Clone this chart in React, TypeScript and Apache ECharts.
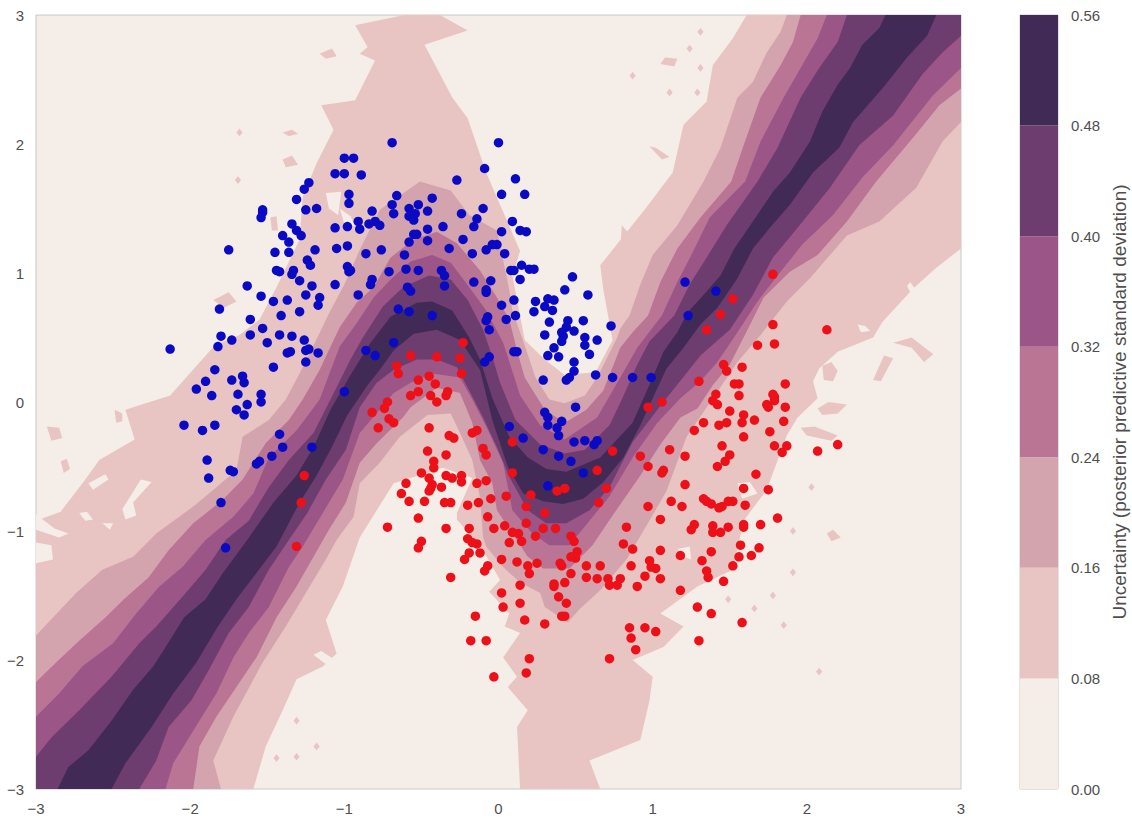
import React, { useEffect, useRef } from "react";
import * as echarts from "echarts";

type Pt = [number, number];

const bluePoints: Pt[] = [
[-1.00,1.89],[-1.06,1.77],[-1.00,1.77],[-1.23,1.70],[-1.26,1.65],[-1.31,1.57],[-0.97,1.61],[-0.97,1.54],[-1.25,1.49],[-1.18,1.50],[-1.53,1.49],[-1.53,1.47],[-1.54,1.43],[-1.34,1.38],[-1.06,1.35],[-0.98,1.36],[-1.31,1.33],[-1.28,1.29],[-1.40,1.29],[-1.36,1.24],[-1.75,1.18],[-1.45,1.16],[-1.36,1.16],[-1.19,1.18],[-1.05,1.19],[-0.98,1.21],[-1.24,1.10],[-1.22,1.06],[-1.44,1.02],[-1.42,1.01],[-1.33,1.02],[-1.34,0.99],[-0.98,1.05],[-0.97,1.01],[-1.29,0.94],[-1.21,0.90],[-1.63,0.90],[-1.06,0.91],[-1.54,0.82],[-1.25,0.83],[-1.16,0.81],[-1.17,0.75],[-1.46,0.78],[-1.37,0.79],[-1.81,0.72],[-1.41,0.67],[-1.29,0.70],[-1.61,0.64],[-1.53,0.57],
[-1.80,0.51],[-1.73,0.48],[-1.82,0.43],[-1.61,0.52],[-1.50,0.46],[-1.42,0.52],[-1.34,0.51],[-1.26,0.48],[-2.13,0.41],[-1.37,0.38],[-1.35,0.39],[-1.25,0.40],[-1.23,0.41],[-1.17,0.38],[-1.25,0.31],[-1.46,0.27],[-1.84,0.25],[-1.73,0.17],[-1.66,0.20],[-1.65,0.15],[-1.90,0.16],[-1.96,0.10],[-1.86,0.05],[-1.69,0.06],[-1.54,0.06],[-1.54,0.00],[-1.63,-0.02],[-1.70,-0.06],[-1.65,-0.10],[-2.04,-0.18],[-1.92,-0.22],[-1.84,-0.18],[-1.42,-0.25],[-1.40,-0.35],[-1.47,-0.42],[-1.55,-0.46],[-1.57,-0.48],[-1.21,-0.35],[-1.00,0.08],[-1.89,-0.45],[-1.74,-0.53],[-1.72,-0.54],[-1.88,-0.59],[-1.80,-0.78],[-1.77,-1.13],
[-0.69,2.01],[0.00,2.01],[-0.94,1.89],[-0.89,1.76],[-0.09,1.81],[-0.27,1.72],[0.11,1.73],[-0.66,1.60],[-0.69,1.53],[-0.68,1.46],[-0.82,1.48],[-0.43,1.58],[-0.52,1.53],[-0.58,1.50],[-0.54,1.46],[-0.58,1.44],[-0.55,1.41],[-0.46,1.48],[-0.24,1.46],[-0.10,1.50],[-0.14,1.42],[-0.16,1.36],[0.09,1.40],[0.14,1.33],[0.18,1.32],[0.17,1.61],[0.02,1.61],[-0.91,1.40],[-0.90,1.34],[-0.84,1.38],[-0.80,1.40],[-0.77,1.37],[-0.46,1.34],[-0.36,1.36],[-0.55,1.30],[-0.53,1.30],[-0.58,1.24],[-0.46,1.25],[-0.23,1.26],[0.02,1.32],[-0.86,1.15],[-0.76,1.18],[-0.61,1.14],[-0.32,1.19],[-0.17,1.15],[-0.08,1.18],[-0.04,1.22],[-0.01,1.22],[0.04,1.15],[-0.96,1.02],[-0.71,1.01],[-0.60,1.03],[-0.52,1.02],[-0.37,1.02],[-0.35,0.98],[-0.16,0.93],[-0.05,0.94],[0.08,1.02],[0.10,1.02],[0.15,1.06],[0.20,1.03],[0.14,0.95],[-0.82,0.95],[-0.83,0.91],[-0.59,0.89],[-0.57,0.86],[-0.35,0.90],[-0.08,0.87],[-0.08,0.85],[-0.91,0.83],[0.02,0.75],[0.10,0.79],[-0.65,0.72],[-0.58,0.70],[-0.43,0.67],[-0.07,0.66],[-0.08,0.63],[0.05,0.64],[0.11,0.67],[-0.06,0.56],[-0.68,0.46],[-0.86,0.40],[-0.80,0.36],[0.10,0.39],[0.12,0.39],[-0.06,0.35],[-0.09,0.31],
[0.23,1.03],[0.48,0.97],[0.43,0.87],[0.58,0.83],[0.32,0.80],[0.36,0.79],[0.24,0.78],[0.30,0.74],[0.35,0.71],[0.23,0.70],[0.33,0.62],[0.45,0.63],[0.55,0.63],[0.73,0.59],[0.44,0.58],[0.49,0.55],[0.30,0.52],[0.41,0.54],[0.42,0.51],[0.41,0.47],[0.56,0.50],[0.64,0.48],[0.56,0.44],[0.36,0.42],[0.32,0.36],[0.39,0.35],[0.59,0.37],[0.49,0.31],[0.49,0.24],[0.46,0.19],[0.44,0.17],[0.29,0.17],[0.63,0.21],[0.74,0.19],[0.87,0.19],[0.99,0.19],[1.21,0.93],[1.41,0.86],[1.23,0.67],[0.50,-0.04],[0.30,-0.08],[0.32,-0.12],[0.32,-0.18],[0.41,-0.15],[0.38,-0.20],[0.39,-0.26],[0.07,-0.19],[0.16,-0.28],[0.29,-0.37],[0.39,-0.42],[0.47,-0.46],[0.49,-0.31],[0.56,-0.30],[0.62,-0.33],[0.64,-0.30],[0.55,-0.55],[0.32,-0.65]
];

const redPoints: Pt[] = [
[-1.26,-0.57],[-1.28,-0.78],[-1.31,-1.12],[-0.23,0.46],[-0.57,0.36],[-0.40,0.35],[-0.25,0.34],[-0.66,0.28],
[-0.65,0.22],[-0.24,0.22],[-0.52,0.17],[-0.45,0.20],[-0.41,0.14],[-0.57,0.05],[-0.52,0.08],[-0.44,0.05],[-0.40,0.00],[-0.34,0.05],[-0.33,0.08],[-0.72,0.00],[-0.74,-0.05],[-0.82,-0.08],[-0.71,-0.13],[-0.68,-0.16],[-0.78,-0.20],[-0.45,-0.20],[-0.32,-0.26],[-0.29,-0.28],[-0.17,-0.24],[-0.14,-0.22],[-0.10,-0.36],[-0.08,-0.41],[-0.46,-0.38],[-0.34,-0.41],[-0.42,-0.46],[-0.42,-0.51],[-0.50,-0.55],[-0.45,-0.59],[-0.43,-0.64],[-0.37,-0.66],[-0.44,-0.67],[-0.45,-0.69],[-0.34,-0.57],[-0.30,-0.59],[-0.24,-0.57],[-0.24,-0.62],[-0.14,-0.63],[-0.08,-0.61],[-0.60,-0.63],[-0.63,-0.71],[-0.58,-0.77],[-0.52,-0.90],[-0.72,-0.97],[-0.52,-1.13],[-0.50,-1.08],
[-0.48,-0.77],[-0.35,-0.78],[-0.31,-0.78],[-0.20,-0.80],[-0.13,-0.78],[-0.05,-0.75],[0.05,-0.73],[0.21,-0.72],[-0.07,-0.89],[0.18,-0.81],[0.30,-0.86],[0.65,-0.78],[-0.34,-0.98],[-0.19,-0.98],[-0.03,-0.98],[0.04,-0.96],[0.18,-0.94],[0.09,-1.01],[0.13,-1.02],[0.24,-1.04],[0.29,-0.98],[0.37,-0.98],[0.47,-1.04],[0.49,-1.08],[0.83,-0.97],[0.81,-1.10],[0.87,-1.14],[-0.20,-1.06],[-0.17,-1.09],[-0.14,-1.10],[0.07,-1.09],[0.15,-1.08],[-0.19,-1.17],[-0.12,-1.17],[0.51,-1.16],[0.47,-1.20],[0.50,-1.21],[-0.22,-1.22],[0.02,-1.22],[0.12,-1.24],[0.19,-1.27],[0.25,-1.25],[0.40,-1.25],[0.41,-1.27],[0.57,-1.27],[0.66,-1.27],[0.86,-1.27],[-0.07,-1.27],[-0.09,-1.31],[0.20,-1.33],[0.47,-1.33],[0.57,-1.36],[0.64,-1.37],[0.71,-1.37],[0.79,-1.37],[0.72,-1.42],[0.77,-1.42],[0.90,-1.43],[-0.31,-1.36],[0.14,-1.42],[0.36,-1.41],[0.36,-1.43],[0.43,-1.40],[0.02,-1.48],[0.39,-1.51],[0.14,-1.56],[0.44,-1.56],[0.03,-1.59],[-0.15,-1.66],[0.17,-1.69],[0.41,-1.66],[0.43,-1.66],[0.30,-1.72],[0.85,-1.75],[0.86,-1.83],[0.89,-1.92],[-0.18,-1.85],[-0.08,-1.85],[0.20,-1.99],[0.72,-1.99],[0.18,-2.10],[-0.03,-2.13],
[0.09,-0.31],[0.09,-0.55],[0.38,-0.69],[0.43,-0.67],[0.74,-0.38],[0.64,-0.53],[0.70,-0.67],
[1.78,0.99],[1.52,0.80],[1.44,0.68],[1.35,0.56],[1.78,0.60],[2.13,0.56],[1.68,0.44],[1.79,0.45],[1.46,0.29],[1.48,0.24],[1.58,0.27],[1.30,0.16],[1.53,0.14],[1.56,0.14],[1.86,0.14],[1.41,0.06],[1.56,0.05],[1.78,0.06],[1.79,0.04],[1.79,0.01],[1.39,0.01],[1.42,-0.02],[1.74,-0.02],[1.75,-0.04],[1.86,-0.04],[0.97,-0.04],[1.06,0.00],[1.50,-0.07],[1.59,-0.10],[1.66,-0.14],[1.33,-0.16],[1.43,-0.18],[1.48,-0.16],[1.58,-0.16],[1.85,-0.15],[1.27,-0.22],[1.76,-0.23],[1.59,-0.27],[1.45,-0.34],[1.79,-0.34],[1.87,-0.34],[2.20,-0.33],[2.07,-0.38],[1.84,-0.39],[1.11,-0.37],[1.21,-0.42],[0.92,-0.42],[1.50,-0.41],[0.97,-0.50],[1.47,-0.46],[1.42,-0.50],[1.07,-0.53],[1.06,-0.55],[1.67,-0.56],[1.21,-0.64],[1.59,-0.67],[1.75,-0.68],
[1.12,-0.77],[1.19,-0.81],[0.97,-0.81],[1.33,-0.75],[1.35,-0.77],[1.38,-0.79],[1.49,-0.77],[1.52,-0.77],[1.43,-0.82],[1.45,-0.81],[1.60,-0.80],[1.05,-0.91],[1.27,-0.95],[1.25,-0.99],[1.39,-0.96],[1.39,-1.01],[1.44,-1.01],[1.49,-0.97],[1.59,-0.95],[1.59,-0.97],[1.70,-0.95],[1.81,-0.90],[1.05,-1.15],[1.18,-1.19],[1.38,-1.16],[1.57,-1.11],[1.69,-1.13],[1.56,-1.20],[1.64,-1.19],[1.32,-1.23],[0.98,-1.23],[0.99,-1.28],[1.02,-1.29],[0.95,-1.35],[1.05,-1.37],[1.35,-1.31],[1.36,-1.36],[1.52,-1.27],[1.46,-1.39],[1.18,-1.46],[1.29,-1.59],[1.38,-1.64],[1.58,-1.71],[0.95,-1.75],[1.02,-1.78],[1.30,-1.85]
];

const level2Upper: Pt[] = [[-3,-0.92],[-2.84,-0.85],[-2.68,-0.60],[-2.59,-0.45],[-2.36,-0.29],[-2.42,-0.06],[-2.13,0.05],[-1.84,0.44],[-1.68,0.52],[-1.55,0.64],[-1.44,0.89],[-1.29,1.26],[-1.27,1.59],[-1.18,1.85],[-1.07,2.11],[-1.15,2.30],[-0.93,2.34],[-0.80,2.65],[-0.93,2.92],[-0.61,3],[-0.38,3],[-0.20,2.88],[-0.48,2.77],[-0.30,2.36],[-0.20,2.20],[-0.08,1.78],[0.14,1.17],[0.09,0.98],[0.17,0.48],[0.30,0.33],[0.43,0.21],[0.63,0.23],[0.74,0.48],[0.68,0.87],[0.66,1.06],[0.96,1.51],[1.13,1.78],[1.20,2.15],[1.35,2.33],[1.39,2.61],[1.52,2.82],[1.61,3]];
const level2Lower: Pt[] = [[-1.59,-3],[-1.51,-2.67],[-1.40,-2.39],[-1.31,-2.15],[-1.14,-2.05],[-1.05,-1.95],[-1.12,-1.69],[-1.01,-1.43],[-0.90,-1.05],[-0.68,-0.63],[-0.57,-0.59],[-0.36,-0.51],[-0.17,-0.59],[-0.27,-0.86],[-0.27,-0.91],[-0.10,-1.15],[0.01,-1.38],[-0.06,-1.47],[0.07,-1.64],[0.04,-1.74],[0.14,-1.79],[0.03,-1.98],[0.12,-2.13],[0.06,-2.21],[0.19,-2.39],[0.12,-2.52],[0.14,-3],[0.66,-3],[0.59,-2.78],[0.92,-2.62],[0.98,-2.31],[1.00,-2.13],[0.87,-2.00],[1.07,-1.90],[1.20,-1.74],[1.05,-1.64],[1.29,-1.43],[1.52,-1.30],[1.59,-0.92],[1.74,-0.68],[1.87,-0.26],[1.94,-0.12],[2.07,0.03],[2.04,0.16],[2.08,0.26],[2.20,0.39],[2.43,0.50],[2.49,0.62],[2.69,0.88],[2.84,1.04],[3,1.19]];
const level3Upper: Pt[] = [[-3,-1.81],[-2.89,-1.67],[-2.74,-1.48],[-2.57,-1.30],[-2.37,-1.20],[-2.22,-1.02],[-1.98,-0.81],[-1.83,-0.66],[-1.70,-0.53],[-1.66,-0.27],[-1.49,-0.14],[-1.38,0.02],[-1.26,0.29],[-1.09,0.71],[-1.00,0.91],[-0.90,1.18],[-0.77,1.49],[-0.51,1.71],[-0.31,1.64],[-0.19,1.45],[-0.01,1.33],[0.07,0.87],[0.09,0.71],[0.17,0.44],[0.24,0.19],[0.33,0.02],[0.43,-0.01],[0.56,0.05],[0.64,0.19],[0.77,0.50],[0.79,0.57],[0.85,0.67],[0.92,0.91],[1.00,1.14],[1.16,1.37],[1.33,1.71],[1.44,1.97],[1.55,2.36],[1.65,2.48],[1.74,2.71],[1.83,2.87],[1.87,3]];
const level3Lower: Pt[] = [[-1.80,-3],[-1.85,-2.78],[-1.72,-2.44],[-1.53,-2.02],[-1.38,-1.74],[-1.25,-1.48],[-1.12,-1.22],[-1.05,-1.07],[-0.94,-0.89],[-0.90,-0.63],[-0.77,-0.47],[-0.64,-0.27],[-0.46,-0.10],[-0.31,-0.09],[-0.25,-0.24],[-0.17,-0.45],[-0.12,-0.74],[-0.10,-1.05],[-0.08,-1.12],[0.03,-1.28],[0.14,-1.40],[0.27,-1.48],[0.30,-1.59],[0.45,-1.71],[0.53,-1.60],[0.66,-1.46],[0.83,-1.22],[0.96,-0.96],[1.09,-0.69],[1.22,-0.27],[1.42,0.08],[1.55,0.31],[1.70,0.52],[1.87,0.78],[2.02,0.96],[2.26,1.29],[2.47,1.40],[2.71,1.66],[2.88,2.02],[3,2.17]];
const level4Upper: Pt[] = [[-3,-2.17],[-2.87,-2.02],[-2.72,-1.85],[-2.55,-1.67],[-2.43,-1.53],[-2.27,-1.36],[-2.14,-1.15],[-1.98,-0.94],[-1.79,-0.76],[-1.66,-0.60],[-1.51,-0.32],[-1.36,-0.14],[-1.27,0.02],[-1.16,0.25],[-1.03,0.58],[-0.92,0.77],[-0.81,0.89],[-0.70,1.12],[-0.55,1.26],[-0.40,1.32],[-0.27,1.23],[-0.12,1.02],[-0.01,0.81],[0.07,0.64],[0.12,0.40],[0.17,0.19],[0.30,-0.06],[0.43,-0.16],[0.57,-0.06],[0.68,0.09],[0.79,0.42],[0.87,0.54],[0.97,0.67],[1.05,0.93],[1.16,1.19],[1.31,1.43],[1.51,1.71],[1.59,1.99],[1.70,2.36],[1.83,2.61],[1.91,2.79],[1.96,3]];
const level4Lower: Pt[] = [[-1.98,-3],[-1.94,-2.67],[-1.83,-2.44],[-1.70,-2.21],[-1.57,-1.98],[-1.44,-1.67],[-1.31,-1.43],[-1.20,-1.20],[-1.10,-0.99],[-0.99,-0.78],[-0.90,-0.47],[-0.79,-0.32],[-0.62,-0.12],[-0.57,-0.04],[-0.40,0.11],[-0.25,0.07],[-0.17,-0.16],[-0.12,-0.45],[-0.04,-0.63],[-0.01,-0.84],[0.09,-1.02],[0.19,-1.20],[0.29,-1.29],[0.46,-1.29],[0.61,-1.11],[0.74,-0.88],[0.92,-0.57],[1.05,-0.33],[1.18,-0.12],[1.29,-0.05],[1.39,0.13],[1.50,0.29],[1.59,0.50],[1.72,0.81],[1.89,1.01],[2.07,1.14],[2.26,1.40],[2.45,1.71],[2.69,2.05],[2.86,2.30],[3,2.43]];
const level5Upper: Pt[] = [[-3,-2.44],[-2.85,-2.26],[-2.70,-2.05],[-2.50,-1.87],[-2.35,-1.64],[-2.20,-1.43],[-2.05,-1.28],[-1.90,-1.07],[-1.72,-0.89],[-1.59,-0.71],[-1.49,-0.43],[-1.31,-0.22],[-1.16,0.02],[-1.03,0.43],[-0.92,0.61],[-0.81,0.81],[-0.70,0.95],[-0.57,1.09],[-0.43,1.14],[-0.31,1.08],[-0.19,0.89],[-0.08,0.71],[0.03,0.46],[0.14,0.05],[0.27,-0.18],[0.43,-0.29],[0.64,-0.12],[0.79,0.19],[0.90,0.42],[1.06,0.67],[1.16,0.93],[1.26,1.16],[1.37,1.43],[1.60,1.71],[1.70,2.02],[1.85,2.36],[1.97,2.61],[2.07,2.82],[2.13,3]];
const level5Lower: Pt[] = [[-2.16,-3],[-2.11,-2.80],[-1.94,-2.47],[-1.83,-2.26],[-1.72,-1.98],[-1.62,-1.79],[-1.49,-1.59],[-1.36,-1.28],[-1.27,-1.12],[-1.14,-0.86],[-1.01,-0.60],[-0.90,-0.24],[-0.68,0.07],[-0.57,0.15],[-0.43,0.22],[-0.25,0.19],[-0.17,0.02],[-0.08,-0.19],[0.03,-0.47],[0.09,-0.84],[0.22,-1.02],[0.33,-1.11],[0.46,-1.11],[0.57,-0.95],[0.72,-0.73],[0.87,-0.43],[1.03,-0.16],[1.18,0.03],[1.31,0.16],[1.42,0.31],[1.55,0.54],[1.68,0.78],[1.81,0.98],[1.97,1.22],[2.17,1.45],[2.36,1.74],[2.56,1.99],[2.82,2.38],[3,2.59]];
const level6Upper: Pt[] = [[-3,-2.75],[-2.90,-2.60],[-2.72,-2.39],[-2.51,-2.13],[-2.33,-1.87],[-2.22,-1.74],[-2.05,-1.51],[-1.90,-1.30],[-1.77,-1.07],[-1.62,-0.92],[-1.49,-0.66],[-1.36,-0.45],[-1.20,-0.24],[-1.09,0.02],[-0.96,0.33],[-0.88,0.50],[-0.75,0.74],[-0.62,0.89],[-0.45,0.98],[-0.31,0.95],[-0.20,0.79],[-0.10,0.56],[-0.04,0.35],[0.01,0.15],[0.11,-0.14],[0.27,-0.33],[0.43,-0.40],[0.56,-0.37],[0.72,-0.18],[0.80,0.02],[0.90,0.29],[0.98,0.47],[1.14,0.67],[1.24,0.91],[1.35,1.12],[1.48,1.37],[1.68,1.71],[1.81,1.97],[1.96,2.36],[2.08,2.59],[2.20,2.79],[2.26,3]];
const level6Lower: Pt[] = [[-2.33,-3],[-2.22,-2.78],[-2.14,-2.52],[-1.99,-2.31],[-1.88,-2.08],[-1.75,-1.79],[-1.62,-1.59],[-1.49,-1.30],[-1.36,-1.07],[-1.24,-0.86],[-1.12,-0.60],[-0.99,-0.37],[-0.90,-0.04],[-0.79,0.15],[-0.68,0.25],[-0.53,0.33],[-0.40,0.33],[-0.27,0.27],[-0.19,0.09],[-0.10,-0.12],[-0.01,-0.35],[0.07,-0.58],[0.19,-0.84],[0.31,-0.94],[0.44,-0.94],[0.59,-0.84],[0.72,-0.66],[0.87,-0.31],[1.07,0.00],[1.21,0.21],[1.31,0.36],[1.50,0.56],[1.65,0.83],[1.78,1.12],[1.94,1.35],[2.15,1.66],[2.34,1.99],[2.56,2.22],[2.75,2.54],[2.88,2.71],[3,2.84]];
const level7Upper: Pt[] = [[-2.86,-3],[-2.79,-2.83],[-2.66,-2.70],[-2.51,-2.47],[-2.37,-2.23],[-2.24,-2.05],[-2.17,-1.92],[-2.04,-1.67],[-1.90,-1.53],[-1.79,-1.33],[-1.63,-1.07],[-1.46,-0.78],[-1.31,-0.57],[-1.20,-0.35],[-1.09,-0.06],[-0.96,0.21],[-0.83,0.46],[-0.70,0.66],[-0.53,0.77],[-0.43,0.78],[-0.30,0.71],[-0.19,0.50],[-0.12,0.33],[-0.04,0.03],[0.07,-0.27],[0.19,-0.43],[0.31,-0.52],[0.44,-0.54],[0.66,-0.43],[0.87,-0.16],[1.00,0.19],[1.07,0.39],[1.16,0.54],[1.23,0.70],[1.33,0.83],[1.44,0.98],[1.53,1.19],[1.65,1.40],[1.78,1.63],[1.89,1.78],[2.02,2.02],[2.10,2.25],[2.20,2.46],[2.28,2.59],[2.36,2.77],[2.47,2.90],[2.51,3]];
const level7Lower: Pt[] = [[-2.51,-3],[-2.42,-2.80],[-2.25,-2.52],[-2.11,-2.26],[-1.96,-2.02],[-1.82,-1.74],[-1.70,-1.53],[-1.44,-1.12],[-1.29,-0.78],[-1.18,-0.57],[-1.09,-0.37],[-0.98,-0.10],[-0.85,0.13],[-0.77,0.25],[-0.68,0.40],[-0.55,0.53],[-0.40,0.56],[-0.25,0.48],[-0.12,0.25],[-0.04,-0.14],[0.06,-0.50],[0.16,-0.71],[0.29,-0.77],[0.42,-0.79],[0.55,-0.75],[0.68,-0.62],[0.81,-0.43],[0.92,-0.18],[1.00,0.03],[1.09,0.26],[1.20,0.42],[1.31,0.60],[1.42,0.73],[1.55,0.96],[1.65,1.19],[1.76,1.35],[1.89,1.53],[2.04,1.78],[2.21,1.97],[2.30,2.17],[2.49,2.43],[2.65,2.67],[2.78,2.84],[2.84,3]];

const pinkIslands: Pt[][] = [
[[1.05,2.62],[1.08,2.67],[1.16,2.66],[1.14,2.60]],
[[0.98,1.98],[1.02,1.97],[1.11,1.90],[1.06,1.88]],
[[0.80,1.37],[0.85,1.30],[0.87,1.12],[0.80,1.09],[0.79,1.20]],
[[-1.40,1.88],[-1.34,1.91],[-1.30,1.84],[-1.38,1.82]],
[[-1.40,2.09],[-1.34,2.11],[-1.30,2.08],[-1.36,2.06]],
[[-1.48,1.43],[-1.44,1.44],[-1.43,1.33],[-1.47,1.33]],
[[-1.16,2.70],[-1.08,2.74],[-1.05,2.68],[-1.12,2.66]],
[[-0.90,2.70],[-0.80,2.80],[-0.68,2.72],[-0.75,2.62]],
[[2.10,0.28],[2.16,0.31],[2.20,0.24],[2.17,0.16],[2.11,0.17]],
[[2.07,-0.05],[2.14,0],[2.26,-0.02],[2.20,-0.09],[2.10,-0.10]],
[[2.43,0.17],[2.50,0.36],[2.56,0.34],[2.48,0.16]],
[[2.56,0.46],[2.68,0.50],[2.82,0.37],[2.76,0.31],[2.68,0.42]],
[[1.96,-0.20],[2.05,-0.19],[2.20,-0.26],[2.16,-0.30],[2.00,-0.26]],
[[2.13,-1.02],[2.17,-0.99],[2.22,-1.05],[2.16,-1.08]],
[[-1.85,0.79],[-1.75,0.85],[-1.70,0.78],[-1.78,0.73]],
[[-2.93,-0.19],[-2.85,-0.20],[-2.83,-0.28],[-2.90,-0.30]],
[[-2.49,-0.06],[-2.44,-0.09],[-2.44,-0.15],[-2.48,-0.16]],
[[-2.35,-0.17],[-2.27,-0.03],[-2.19,-0.07],[-2.24,-0.17]],
[[-2.84,-0.46],[-2.80,-0.44],[-2.78,-0.52],[-2.82,-0.55]]
];
const speckCentres: Pt[] = [[2.03,-0.66],[1.91,-1.32],[1.85,-1.73],[1.78,-1.50],[1.91,-1.00],[2.08,-2.09],[1.66,-1.60],[1.49,-1.53],[-1.44,-2.76],[-1.31,-2.75],[-1.18,-2.67],[-1.31,-2.47],[-1.68,2.09],[-1.69,1.72],[1.31,2.87],[1.24,2.74],[1.31,2.59],[1.11,2.40],[1.29,2.40],[0.87,2.53]];
const paleHoles: Pt[][] = [
[[-3,-1.09],[-2.90,-1.11],[-2.89,-1.22],[-3,-1.25]],
[[-3,-0.87],[-2.88,-0.98],[-2.79,-1.02],[-2.85,-1.05],[-3,-0.99]],
[[-2.44,-0.83],[-2.32,-0.60],[-2.25,-0.62],[-2.37,-0.78],[-2.35,-0.88],[-2.42,-0.91]],
[[-2.66,-0.63],[-2.55,-0.56],[-2.53,-0.60],[-2.63,-0.68]],
[[-2.72,-0.86],[-2.67,-0.85],[-2.63,-0.91],[-2.68,-0.92]],
[[-2.57,-0.94],[-2.50,-0.94],[-2.52,-0.99]],
[[-1.20,-1.96],[-1.10,-2.05],[-1.06,-2.00],[-1.15,-1.93]],
[[2.67,0.93],[2.73,0.83],[2.72,0.73],[2.65,0.90]],
[[2.33,0.60],[2.38,0.59],[2.41,0.55],[2.35,0.54]],
[[-1.03,1.50],[-0.96,1.44],[-0.93,1.36],[-1.00,1.38]],
[[-1.12,1.62],[-1.02,1.63],[-1.04,1.45],[-1.10,1.50]],
[[1.16,-1.14],[1.24,-1.12],[1.25,-1.22],[1.20,-1.20]],
[[1.55,-0.63],[1.63,-0.62],[1.68,-0.71],[1.58,-0.75]]
];

const levelSteps = [0.08, 0.08, 0.08, 0.08, 0.08, 0.08, 0.08];
const levelColors = ["#f5ede7", "#e8c5c2", "#d4a4ae", "#ba7494", "#9b5587", "#6e3d70", "#412a55"];
const colorbarLabel = "Uncertainty (posterior predictive standard deviation)";
const textFont = "Liberation Sans";
const textColor = "#4f4f4f";

const openBand = (upper: Pt[], lower: Pt[]): Pt[] => [...upper, [3, 3], ...[...lower].reverse(), [-3, -3]];
const speck = ([x, y]: Pt): Pt[] => [[x - 0.02, y], [x, y + 0.03], [x + 0.02, y], [x, y - 0.03]];

function polygonSeries(points: Pt[], fill: string, z: number) {
  return {
    type: "custom",
    coordinateSystem: "cartesian2d",
    xAxisIndex: 0,
    yAxisIndex: 0,
    clip: true,
    silent: true,
    z,
    data: [[0, 0]],
    renderItem: (_p: unknown, api: any) => ({
      type: "polygon",
      shape: { points: points.map((pt) => api.coord(pt)) },
      style: { fill },
    }),
  };
}

const minus = (s: string) => s.replace("-", "\u2212");

export default function App() {
  const ref = useRef<HTMLDivElement>(null);
  useEffect(() => {
    const chart = echarts.init(ref.current!, undefined, { renderer: "svg" });
    const bands: any[] = [
      polygonSeries(openBand(level2Upper, level2Lower), levelColors[1], 2),
      ...pinkIslands.map((p) => polygonSeries(p, levelColors[1], 2)),
      ...speckCentres.map((c) => polygonSeries(speck(c), levelColors[1], 2)),
      ...paleHoles.map((p) => polygonSeries(p, levelColors[0], 2)),
      polygonSeries(openBand(level3Upper, level3Lower), levelColors[2], 3),
      polygonSeries(openBand(level4Upper, level4Lower), levelColors[3], 3),
      polygonSeries(openBand(level5Upper, level5Lower), levelColors[4], 3),
      polygonSeries(openBand(level6Upper, level6Lower), levelColors[5], 3),
      polygonSeries([...level7Upper, ...[...level7Lower].reverse()], levelColors[6], 3),
    ];
    const labelStyle = { color: textColor, fontFamily: textFont, fontSize: 15 };
    chart.setOption({
      animation: false,
      backgroundColor: "#ffffff",
      grid: [
        { left: 36, top: 15, width: 925, height: 774, show: true, backgroundColor: levelColors[0], borderColor: "#c8c8c8", borderWidth: 1 },
        { left: 1020, top: 15, width: 38, height: 774, show: true, borderColor: "#c8c8c8", borderWidth: 1 },
      ],
      xAxis: [
        {
          type: "value", gridIndex: 0, min: -3, max: 3, interval: 1, z: 10,
          axisLine: { show: false }, axisTick: { show: false }, splitLine: { show: false },
          axisLabel: { ...labelStyle, margin: 12, formatter: (v: number) => minus(String(v)), hideOverlap: false, showMinLabel: true, showMaxLabel: true },
        },
        { type: "category", gridIndex: 1, data: ["band"], axisLine: { show: false }, axisTick: { show: false }, axisLabel: { show: false } },
      ],
      yAxis: [
        {
          type: "value", gridIndex: 0, min: -3, max: 3, interval: 1,
          axisLine: { show: false }, axisTick: { show: false }, splitLine: { show: false },
          axisLabel: { ...labelStyle, margin: 12, formatter: (v: number) => minus(String(v)), showMinLabel: true, showMaxLabel: true },
        },
        {
          type: "value", gridIndex: 1, position: "right", min: 0, max: 0.56, interval: 0.08,
          axisLine: { show: false }, axisTick: { show: false }, splitLine: { show: false },
          axisLabel: { ...labelStyle, margin: 13, formatter: (v: number) => v.toFixed(2), showMinLabel: true, showMaxLabel: true },
          name: colorbarLabel, nameLocation: "middle", nameRotate: 90, nameGap: 52,
          nameTextStyle: { color: textColor, fontFamily: textFont, fontSize: 19 },
        },
      ],
      series: [
        ...bands,
        ...levelSteps.map((step, i) => ({
          type: "bar", xAxisIndex: 1, yAxisIndex: 1, stack: "colorbar", barWidth: "100%", silent: true,
          itemStyle: { color: levelColors[i] }, data: [step],
        })),
        { type: "scatter", xAxisIndex: 0, yAxisIndex: 0, data: bluePoints, symbolSize: 9.5, z: 5, silent: true, itemStyle: { color: "#0a0ac4", opacity: 1 } },
        { type: "scatter", xAxisIndex: 0, yAxisIndex: 0, data: redPoints, symbolSize: 9.5, z: 5, silent: true, itemStyle: { color: "#ee1018", opacity: 1 } },
      ],
    });
    return () => chart.dispose();
  }, []);
  return <div ref={ref} style={{ position: "absolute", left: 0, top: 0, width: 1132, height: 818 }} />;
}
